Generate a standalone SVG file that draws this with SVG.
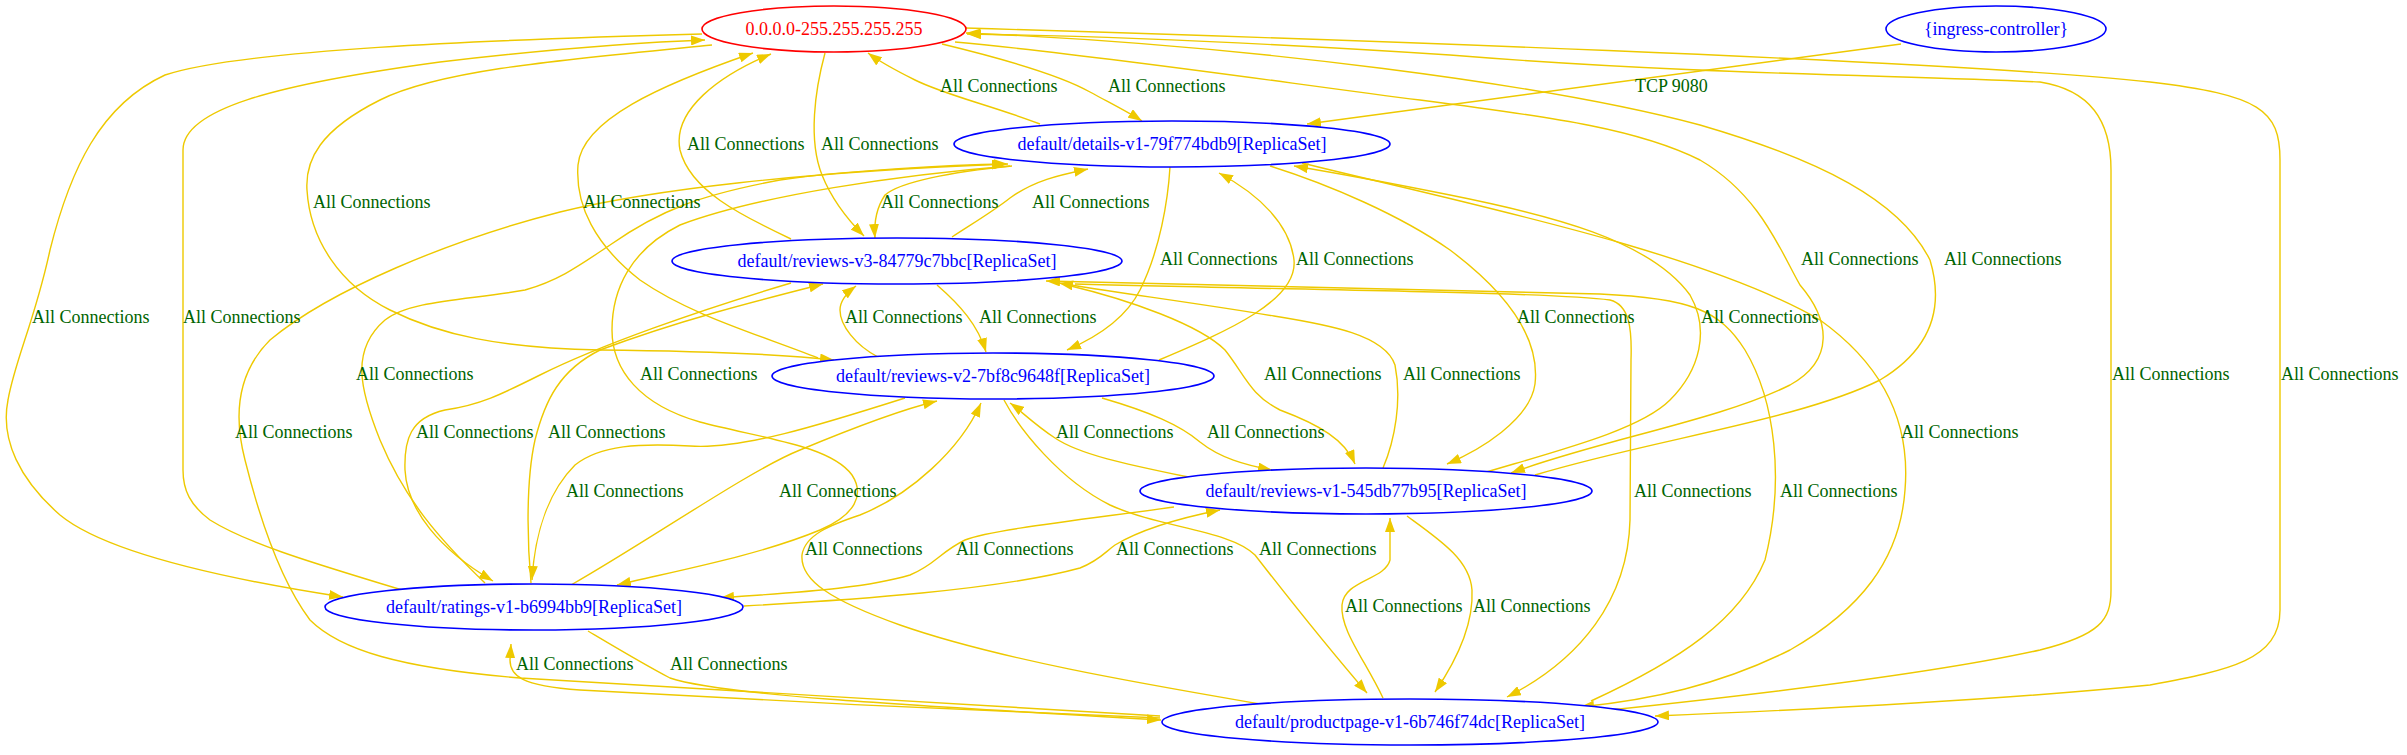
<svg xmlns="http://www.w3.org/2000/svg" width="2407" height="755" viewBox="0 0 2407 755">
<style>
.e{fill:none;stroke:#eec900;stroke-width:1.4;marker-end:url(#ah)}
.ea{fill:none;stroke:#eec900;stroke-width:1.4}
.l{font-family:"Liberation Serif","Times New Roman",serif;font-size:18px;fill:#006400}
.n{fill:#fff;stroke:#0000ff;stroke-width:1.6}
.nt{font-family:"Liberation Serif","Times New Roman",serif;font-size:18px;fill:#0000ff;text-anchor:middle}
</style>
<defs>
<marker id="ah" markerUnits="userSpaceOnUse" viewBox="0 0 14 10" markerWidth="14" markerHeight="10" refX="14" refY="5" orient="auto">
<path d="M0,0 L14,5 L0,10 z" fill="#eec900"/>
</marker>
</defs>
<rect width="2407" height="755" fill="#fff"/>
<g id="edges">
<!-- N0 -> RAT -->
<path class="e" d="M702,34 C480,40 240,50 165,75 C100,105 70,170 50,250 C35,320 15,360 8,400 C0,440 20,480 60,515 C100,548 200,575 343,597"/>
<!-- RAT -> N0 -->
<path class="e" d="M402,590 C320,565 250,545 210,520 C190,505 183,490 183,470 L183,150 C183,110 270,85 440,62 C560,48 650,42 705,40"/>
<!-- N0 -> V2 -->
<path class="e" d="M712,45 C560,60 440,70 380,100 C320,130 305,160 307,190 C310,240 340,285 390,310 C440,335 500,348 600,350 C700,351 780,354 834,360"/>
<!-- V2 -> N0 -->
<path class="e" d="M818,358 C760,335 690,315 640,280 C595,245 575,205 578,165 C582,120 660,85 753,53"/>
<!-- V3 -> N0 -->
<path class="e" d="M791,239 C740,215 690,190 680,150 C672,110 720,75 771,54"/>
<!-- N0 -> V3 -->
<path class="e" d="M825,53 C815,90 808,140 822,175 C832,200 848,220 864,236"/>
<!-- DET -> N0 -->
<path class="e" d="M1040,124 C990,105 945,95 915,80 C895,70 880,62 868,53"/>
<!-- N0 -> DET -->
<path class="e" d="M942,44 C1000,58 1060,75 1090,92 C1110,103 1128,112 1142,121"/>
<!-- ING -> DET -->
<path class="e" d="M1901,44 L1307,124"/>
<!-- DET -> V3 -->
<path class="e" d="M1012,166 C950,172 900,182 885,195 C875,210 874,225 875,238"/>
<!-- V3 -> DET -->
<path class="e" d="M952,237 C975,222 995,210 1010,198 C1035,180 1060,175 1088,169"/>
<!-- DET -> V2 -->
<path class="e" d="M1170,167 C1168,200 1160,250 1140,290 C1125,320 1095,338 1067,350"/>
<!-- V2 -> DET -->
<path class="e" d="M1159,360 C1230,330 1298,300 1294,260 C1290,225 1260,195 1219,173"/>
<!-- DET -> V1 -->
<path class="e" d="M1270,166 C1330,185 1400,215 1450,250 C1510,295 1540,340 1535,384 C1530,420 1480,450 1447,464"/>
<!-- V1 -> DET -->
<path class="e" d="M1483,473 C1560,450 1640,430 1670,400 C1700,370 1710,330 1690,295 C1650,240 1550,215 1450,195 C1390,183 1330,172 1294,166"/>
<!-- N0 -> V1 -->
<path class="e" d="M955,42 C1100,55 1300,85 1420,100 C1560,118 1640,130 1700,160 C1760,195 1780,250 1800,285 C1830,320 1835,360 1790,385 C1720,420 1600,440 1511,473"/>
<!-- V1 -> N0 -->
<path class="e" d="M1535,475 C1650,440 1800,420 1880,380 C1930,350 1945,310 1930,260 C1900,200 1820,160 1700,125 C1550,85 1250,45 966,33"/>
<!-- DET -> PP (right) -->
<path class="e" d="M1302,163 C1450,200 1700,250 1820,320 C1890,370 1910,430 1905,490 C1900,560 1860,610 1790,650 C1720,685 1650,700 1580,707"/>
<!-- V3 -> PP -->
<path class="e" d="M1075,284 C1300,290 1550,292 1610,300 C1630,305 1632,330 1631,360 L1630,520 C1628,600 1580,660 1507,697"/>
<!-- PP -> V3 -->
<path class="e" d="M1591,701 C1680,660 1740,620 1765,560 C1785,480 1775,400 1745,350 C1720,310 1690,298 1600,294 C1400,290 1200,286 1046,281"/>
<!-- V1 -> V3 -->
<path class="e" d="M1383,468 C1395,440 1402,400 1395,365 C1385,335 1330,325 1274,316 C1190,302 1110,292 1059,283"/>
<!-- V3 -> V1 -->
<path class="e" d="M1067,285 C1130,300 1200,325 1225,350 C1245,375 1250,395 1280,410 C1320,425 1345,440 1355,464"/>
<!-- V2 -> V1 -->
<path class="e" d="M1102,398 C1150,412 1180,425 1200,442 C1220,458 1245,465 1272,470"/>
<!-- V1 -> V2 -->
<path class="e" d="M1188,477 C1130,465 1080,455 1055,438 C1035,425 1020,410 1010,403"/>
<!-- V2 -> V3 -->
<path class="e" d="M878,357 C855,345 840,325 840,310 C840,300 848,292 856,286"/>
<!-- V3 -> V2 -->
<path class="e" d="M937,285 C960,305 978,325 986,352"/>
<!-- V3 -> RAT -->
<path class="e" d="M791,283 C700,310 600,345 540,375 C500,395 480,405 445,410 C410,418 404,440 405,470 C407,510 440,550 493,581"/>
<!-- RAT -> V3 -->
<path class="e" d="M531,583 C527,540 526,480 535,440 C545,400 560,370 600,350 C680,320 760,300 823,284"/>
<!-- V2 -> RAT -->
<path class="e" d="M905,398 C820,425 740,450 690,446 C640,443 600,445 575,465 C550,490 535,530 532,580"/>
<!-- RAT -> V2 -->
<path class="e" d="M571,585 C650,540 750,470 800,450 C860,425 900,410 937,401"/>
<!-- RAT -> DET -->
<path class="e" d="M485,583 C440,540 405,500 380,440 C360,390 350,350 385,320 C410,300 470,300 525,290 C560,280 580,265 610,245 C660,210 700,195 780,180 C850,170 950,165 1008,164"/>
<!-- DET -> RAT -->
<path class="e" d="M1010,166 C900,175 760,195 680,225 C630,250 612,290 612,330 C612,370 640,405 700,422 C760,438 830,445 852,475 C865,495 855,515 820,530 C760,555 680,570 617,585"/>
<!-- PP -> DET (left) -->
<path class="e" d="M1160,716 C1000,705 700,690 520,678 C400,668 340,650 310,620 C280,580 260,520 245,460 C232,410 240,370 270,340 C330,290 450,240 560,212 C650,190 800,172 1006,164"/>
<!-- PP -> RAT -->
<path class="e" d="M1160,718 C1000,712 750,700 580,690 C520,686 510,675 510,660 L511,644"/>
<!-- RAT -> PP -->
<path class="e" d="M588,631 C620,650 645,665 670,678 C720,695 900,705 1161,720"/>
<!-- PP -> V2 -->
<path class="e" d="M1266,705 C1150,685 1000,660 900,625 C830,600 800,580 802,555 C805,535 830,525 860,515 C910,495 960,450 981,403"/>
<!-- V2 -> PP -->
<path class="e" d="M1004,400 C1020,430 1060,480 1110,505 C1160,528 1230,530 1255,555 C1290,600 1330,650 1367,693"/>
<!-- V1 -> PP -->
<path class="e" d="M1407,516 C1440,540 1470,560 1472,590 C1474,630 1450,670 1435,692"/>
<!-- PP -> V1 -->
<path class="e" d="M1383,698 C1365,660 1340,630 1342,605 C1344,580 1385,580 1390,560 L1390,518"/>
<!-- V1 -> RAT -->
<path class="e" d="M1174,507 C1080,520 990,530 965,540 C940,552 935,565 910,575 C860,590 780,593 720,598"/>
<!-- RAT -> V1 -->
<path class="e" d="M744,606 C850,600 1000,590 1080,568 C1100,560 1105,552 1115,545 C1140,530 1180,518 1220,510"/>
<!-- PP -> N0 -->
<path class="e" d="M1610,710 C1800,690 1950,670 2040,650 C2100,635 2111,620 2111,590 L2111,170 C2111,120 2090,90 2040,82 C1900,75 1700,75 1450,55 C1250,42 1100,36 967,34"/>
<!-- N0 -> PP -->
<path class="e" d="M965,28 C1300,38 1950,60 2150,82 C2260,95 2280,110 2280,160 L2280,610 C2280,660 2230,670 2150,685 C2000,700 1800,710 1655,716"/>
<g class="l">
<text x="940" y="92">All Connections</text>
<text x="1108" y="92">All Connections</text>
<text x="1635" y="92">TCP 9080</text>
<text x="687" y="150">All Connections</text>
<text x="821" y="150">All Connections</text>
<text x="313" y="208">All Connections</text>
<text x="583" y="208">All Connections</text>
<text x="881" y="208">All Connections</text>
<text x="1032" y="208">All Connections</text>
<text x="1160" y="265">All Connections</text>
<text x="1296" y="265">All Connections</text>
<text x="1801" y="265">All Connections</text>
<text x="1944" y="265">All Connections</text>
<text x="32" y="323">All Connections</text>
<text x="183" y="323">All Connections</text>
<text x="845" y="323">All Connections</text>
<text x="979" y="323">All Connections</text>
<text x="1517" y="323">All Connections</text>
<text x="1701" y="323">All Connections</text>
<text x="356" y="380">All Connections</text>
<text x="640" y="380">All Connections</text>
<text x="1264" y="380">All Connections</text>
<text x="1403" y="380">All Connections</text>
<text x="2112" y="380">All Connections</text>
<text x="2281" y="380">All Connections</text>
<text x="235" y="438">All Connections</text>
<text x="416" y="438">All Connections</text>
<text x="548" y="438">All Connections</text>
<text x="1056" y="438">All Connections</text>
<text x="1207" y="438">All Connections</text>
<text x="1901" y="438">All Connections</text>
<text x="566" y="497">All Connections</text>
<text x="779" y="497">All Connections</text>
<text x="1634" y="497">All Connections</text>
<text x="1780" y="497">All Connections</text>
<text x="805" y="555">All Connections</text>
<text x="956" y="555">All Connections</text>
<text x="1116" y="555">All Connections</text>
<text x="1259" y="555">All Connections</text>
<text x="1345" y="612">All Connections</text>
<text x="1473" y="612">All Connections</text>
<text x="516" y="670">All Connections</text>
<text x="670" y="670">All Connections</text>
</g>
</g>
<g id="node-n0">
<ellipse class="n" style="stroke:#ff0000" cx="834" cy="29" rx="132" ry="23"/>
<text class="nt" style="fill:#ff0000" x="834" y="35">0.0.0.0-255.255.255.255</text>
</g>
<g id="node-ingress">
<ellipse class="n" cx="1996" cy="29" rx="110" ry="23"/>
<text class="nt" x="1996" y="35">{ingress-controller}</text>
</g>
<g id="node-details">
<ellipse class="n" cx="1172" cy="144" rx="218" ry="23"/>
<text class="nt" x="1172" y="150">default/details-v1-79f774bdb9[ReplicaSet]</text>
</g>
<g id="node-reviews-v3">
<ellipse class="n" cx="897" cy="261" rx="225" ry="23"/>
<text class="nt" x="897" y="267">default/reviews-v3-84779c7bbc[ReplicaSet]</text>
</g>
<g id="node-reviews-v2">
<ellipse class="n" cx="993" cy="376" rx="221" ry="23"/>
<text class="nt" x="993" y="382">default/reviews-v2-7bf8c9648f[ReplicaSet]</text>
</g>
<g id="node-reviews-v1">
<ellipse class="n" cx="1366" cy="491" rx="226" ry="23"/>
<text class="nt" x="1366" y="497">default/reviews-v1-545db77b95[ReplicaSet]</text>
</g>
<g id="node-ratings">
<ellipse class="n" cx="534" cy="607" rx="209" ry="23"/>
<text class="nt" x="534" y="613">default/ratings-v1-b6994bb9[ReplicaSet]</text>
</g>
<g id="node-productpage">
<ellipse class="n" cx="1410" cy="722" rx="248" ry="23"/>
<text class="nt" x="1410" y="728">default/productpage-v1-6b746f74dc[ReplicaSet]</text>
</g>
</svg>
